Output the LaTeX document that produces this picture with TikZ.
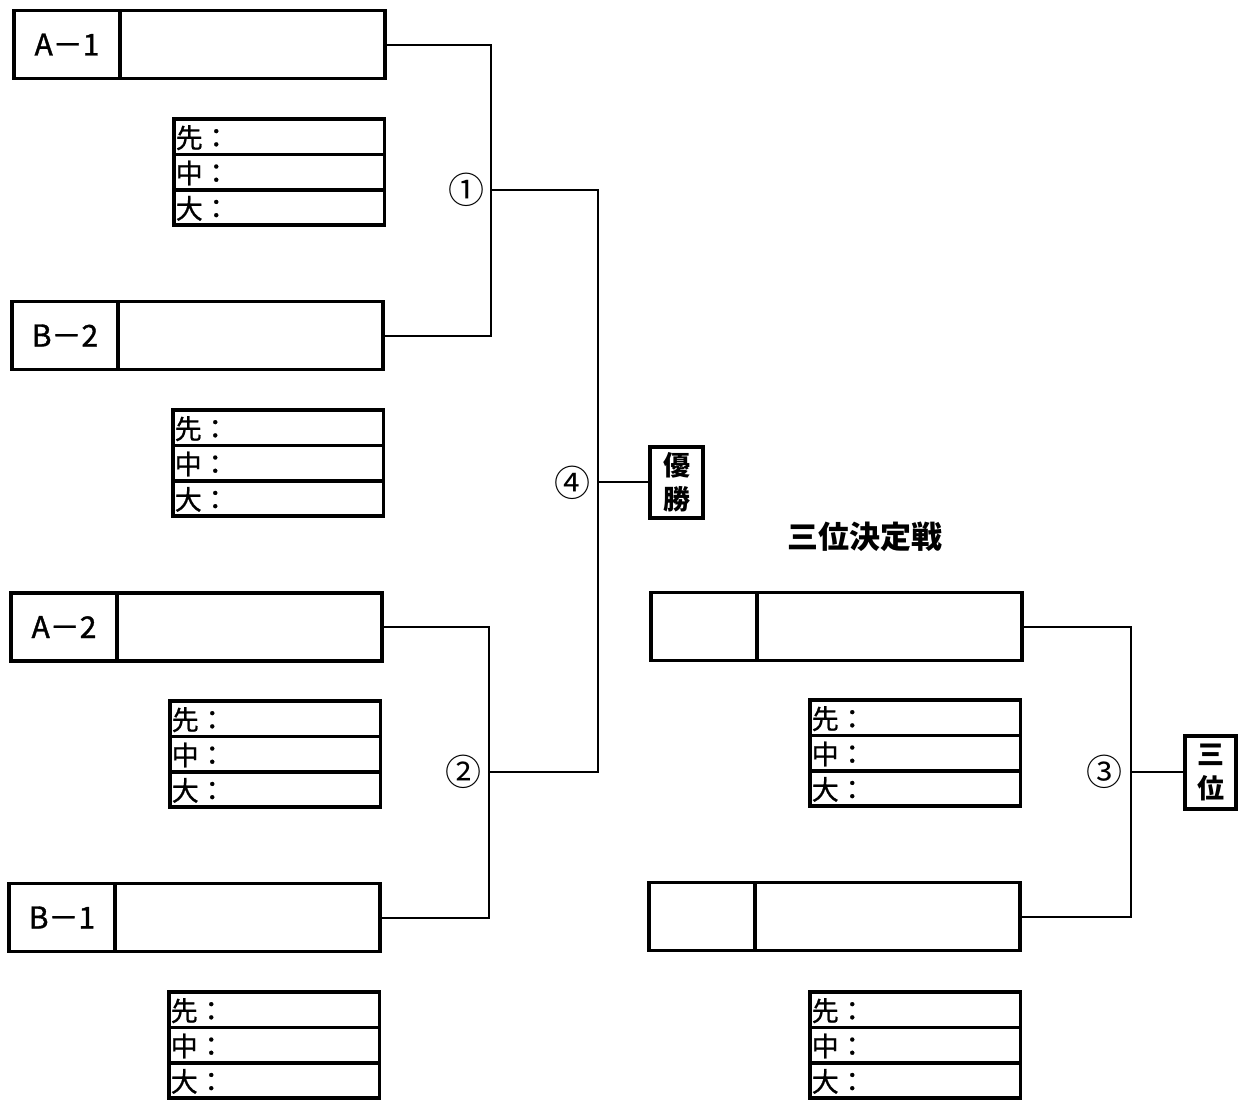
\documentclass[tikz,border=0pt]{standalone}
\usepackage{fontspec}
\setmainfont{Noto Sans CJK JP}
\newfontfamily\tagfont[FakeBold=1.2]{Noto Sans CJK JP}
\newfontfamily\rowfont[FakeBold=0.8]{Noto Sans CJK JP}
\begin{document}
\begin{tikzpicture}[
    x=1pt, y=-1pt,
    every node/.style={outer sep=0pt},
    teamtag/.style={draw, line width=3.5pt, minimum width=106pt, minimum height=68pt, inner sep=0pt, font=\tagfont\fontsize{30}{32}\selectfont},
    teambox/.style={draw, line width=3.5pt, minimum width=265pt, minimum height=68pt, anchor=west, inner sep=0pt},
    scorerow/.style={draw, line width=3.5pt, minimum width=210.5pt, minimum height=35.4pt, text width=207pt, text height=22.5pt, text depth=0.2pt, align=left, inner xsep=1pt, inner ysep=0pt, anchor=north west, font=\rowfont\fontsize{27}{28}\selectfont},
    resultbox/.style={draw, line width=4pt, align=center, inner sep=0pt, font=\bfseries\fontsize{27}{34}\selectfont},
    roundno/.style={inner sep=0pt, font=\fontsize{36}{36}\selectfont},
    bracketline/.style={line width=2pt},
]
\useasboundingbox (0,0) rectangle (1245,1103);

% Left bracket teams
\node[teamtag] (A1t) at (67,44.5) {A－1};
\node[teambox] (A1) at (A1t.east) {};
\node[teamtag] (B2t) at (65,335.5) {B－2};
\node[teambox] (B2) at (B2t.east) {};
\node[teamtag] (A2t) at (64,627) {A－2};
\node[teambox] (A2) at (A2t.east) {};
\node[teamtag] (B1t) at (62,917.5) {B－1};
\node[teambox] (B1) at (B1t.east) {};

% Third place teams
\node[teamtag] (R1t) at (704,626.5) {};
\node[teambox] (R1) at (R1t.east) {};
\node[teamtag] (R2t) at (702,916.5) {};
\node[teambox] (R2) at (R2t.east) {};

% Score boxes
\node[scorerow] (S1a) at (174,119) {先：};
\node[scorerow] (S1b) at (S1a.south west) {中：};
\node[scorerow] (S1c) at (S1b.south west) {大：};
\node[scorerow] (S2a) at (173,410) {先：};
\node[scorerow] (S2b) at (S2a.south west) {中：};
\node[scorerow] (S2c) at (S2b.south west) {大：};
\node[scorerow] (S3a) at (170,701) {先：};
\node[scorerow] (S3b) at (S3a.south west) {中：};
\node[scorerow] (S3c) at (S3b.south west) {大：};
\node[scorerow] (S4a) at (169,992) {先：};
\node[scorerow] (S4b) at (S4a.south west) {中：};
\node[scorerow] (S4c) at (S4b.south west) {大：};
\node[scorerow] (S5a) at (810,700) {先：};
\node[scorerow] (S5b) at (S5a.south west) {中：};
\node[scorerow] (S5c) at (S5b.south west) {大：};
\node[scorerow] (S6a) at (810,992) {先：};
\node[scorerow] (S6b) at (S6a.south west) {中：};
\node[scorerow] (S6c) at (S6b.south west) {大：};

% Results
\node[resultbox, minimum width=53pt, minimum height=71pt] (Win) at (676.5,482) {優\\勝};
\node[resultbox, minimum width=51pt, minimum height=73pt] (Third) at (1210.5,772) {三\\位};
\node[font=\bfseries\fontsize{31}{31}\selectfont] (Title) at (865,537) {三位決定戦};

% Bracket lines
\coordinate (J1) at (491,190);
\coordinate (J2) at (489,772);
\coordinate (J4) at (598,482);
\coordinate (J3) at (1131,772);
\draw[bracketline] (A1.east) -| (J1) |- (B2.east);
\draw[bracketline] (A2.east) -| (J2) |- (B1.east);
\draw[bracketline] (J1) -| (J4) |- (J2);
\draw[bracketline] (J4) -- (Win.west);
\draw[bracketline] (R1.east) -| (J3) |- (R2.east);
\draw[bracketline] (J3) -- (Third.west);

% Match numbers
\node[roundno] (N1) at (466,190) {①};
\node[roundno] (N2) at (463,772) {②};
\node[roundno] (N4) at (572,483) {④};
\node[roundno] (N3) at (1104,772) {③};
\end{tikzpicture}
\end{document}
